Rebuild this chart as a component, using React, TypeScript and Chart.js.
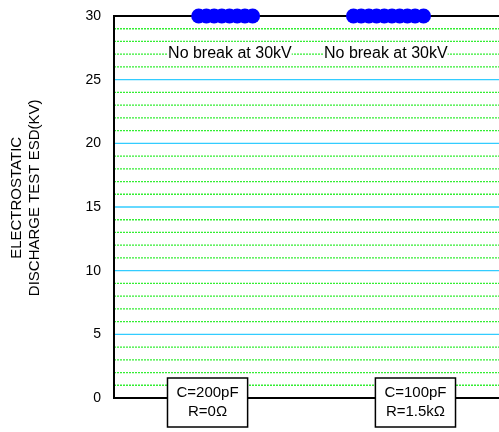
import React, { useEffect, useRef } from "react";
import { Chart, registerables } from "chart.js";

Chart.register(...registerables);

// Data
const yTickLabels = ["0", "5", "10", "15", "20", "25", "30"];
const groupLabels = [["C=200pF", "R=0Ω"], ["C=100pF", "R=1.5kΩ"]];
const groupCenters = [24.3, 78.3];
const noteText = "No break at 30kV";
const noteCenters = [30.1, 70.6];
const noteValue = 27.1;
const group1X = [22, 24, 26, 28, 30, 32, 34, 36];
const group1Y = [30, 30, 30, 30, 30, 30, 30, 30];
const group2X = [62.2, 64.2, 66.2, 68.2, 70.2, 72.2, 74.2, 76.2, 78.2, 80.4];
const group2Y = [30, 30, 30, 30, 30, 30, 30, 30, 30, 30];
const yTitle = ["ELECTROSTATIC", "DISCHARGE TEST ESD(KV)"];

const FONT = "Arial, 'Liberation Sans', sans-serif";

const decor = {
  id: "decor",
  beforeDatasetsDraw(chart: any) {
    const { ctx, chartArea: a, scales } = chart;
    const y = scales.y;
    const x = scales.x;
    ctx.save();
    for (let v = 1; v < 30; v++) {
      const py = y.getPixelForValue(v);
      ctx.beginPath();
      ctx.setLineDash(v % 5 === 0 ? [] : [2, 1]);
      ctx.strokeStyle = v % 5 === 0 ? "#33ccff" : "#33ee33";
      ctx.lineWidth = 1.3;
      ctx.moveTo(a.left, py);
      ctx.lineTo(a.right + 2, py);
      ctx.stroke();
    }
    ctx.setLineDash([]);
    // notes
    ctx.font = `16px ${FONT}`;
    ctx.textAlign = "center";
    ctx.textBaseline = "middle";
    noteCenters.forEach((c) => {
      const px = x.getPixelForValue(c);
      const py = y.getPixelForValue(noteValue);
      const w = ctx.measureText(noteText).width;
      ctx.fillStyle = "#ffffff";
      ctx.fillRect(px - w / 2, py - 11, w, 21);
      ctx.fillStyle = "#000000";
      ctx.fillText(noteText, px, py + 1);
    });
    // axis lines
    ctx.strokeStyle = "#000";
    ctx.lineWidth = 2;
    ctx.beginPath();
    ctx.moveTo(a.left, a.top);
    ctx.lineTo(a.right + 2, a.top);
    ctx.moveTo(a.left, a.top - 1);
    ctx.lineTo(a.left, a.bottom + 1);
    ctx.moveTo(a.left, a.bottom);
    ctx.lineTo(a.right + 2, a.bottom);
    ctx.stroke();
    ctx.restore();
  },
  afterDatasetsDraw(chart: any) {
    const { ctx, chartArea: a, scales } = chart;
    const x = scales.x;
    ctx.save();
    ctx.font = `15px ${FONT}`;
    ctx.textAlign = "center";
    ctx.textBaseline = "middle";
    groupLabels.forEach((lines, i) => {
      const px = x.getPixelForValue(groupCenters[i]);
      const widths = lines.map((l) => ctx.measureText(l).width);
      const w = Math.max(...widths) + 18;
      const top = a.bottom - 20;
      const h = 49;
      ctx.fillStyle = "#fff";
      ctx.fillRect(px - w / 2, top, w, h);
      ctx.strokeStyle = "#000";
      ctx.lineWidth = 1.5;
      ctx.strokeRect(px - w / 2, top, w, h);
      ctx.fillStyle = "#000";
      lines.forEach((l, j) => ctx.fillText(l, px, top + 15 + j * 19));
    });
    // y title
    ctx.font = `15px ${FONT}`;
    const cy = a.top + (a.bottom - a.top) * 0.476;
    ctx.translate(0, cy);
    ctx.rotate(-Math.PI / 2);
    ctx.fillText(yTitle[0], 0, 17);
    ctx.fillText(yTitle[1], 0, 35);
    ctx.restore();
  },
};

export default function App() {
  const ref = useRef<HTMLCanvasElement | null>(null);
  useEffect(() => {
    if (!ref.current) return;
    const toPts = (xs: number[], ys: number[]) => xs.map((v, i) => ({ x: v, y: ys[i] }));
    const chart = new Chart(ref.current, {
      type: "scatter",
      data: {
        datasets: [
          {
            data: toPts(group1X, group1Y),
            backgroundColor: "#0000ff",
            borderColor: "#0000ff",
            pointRadius: 7.5,
            borderWidth: 0,
            clip: false as any,
          },
          {
            data: toPts(group2X, group2Y),
            backgroundColor: "#0000ff",
            borderColor: "#0000ff",
            pointRadius: 7.5,
            borderWidth: 0,
            clip: false as any,
          },
        ],
      },
      options: {
        animation: false,
        responsive: false,
        maintainAspectRatio: false,
        layout: { autoPadding: false, padding: { top: 16, right: 0, bottom: 34, left: 0 } },
        plugins: { legend: { display: false }, tooltip: { enabled: false } },
        scales: {
          x: { type: "linear", min: 0, max: 100, display: false },
          y: {
            min: 0,
            max: 30,
            grid: { display: false, drawTicks: false },
            border: { display: false },
            afterFit: (s: any) => {
              s.width = 114;
              s.paddingTop = 0;
              s.paddingBottom = 0;
            },
            ticks: {
              stepSize: 1,
              autoSkip: false,
              padding: 13,
              color: "#000",
              font: { size: 14, family: FONT },
              callback: (v: any) => {
                const s = String(v);
                return yTickLabels.includes(s) ? s : "";
              },
            },
          },
        },
      },
      plugins: [decor],
    });
    return () => chart.destroy();
  }, []);
  return (
    <div style={{ position: "fixed", left: 0, top: 0, width: 499, height: 432, background: "#fff" }}>
      <canvas ref={ref} width={499} height={432} style={{ width: 499, height: 432 }} />
    </div>
  );
}
